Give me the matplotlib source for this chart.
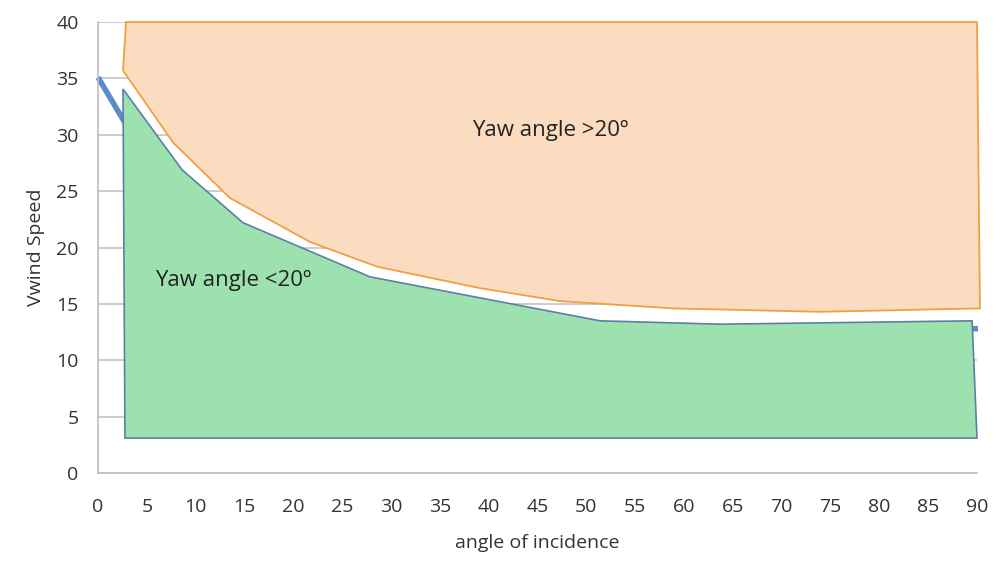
import matplotlib.pyplot as plt
from matplotlib.patches import Polygon

plt.rcParams['font.family'] = ['Open Sans', 'DejaVu Sans']

# region above the limit (orange)
upper_x = [2.87, 90.0, 90.3, 73.9, 58.9, 47.3, 39.1, 28.6, 21.7, 13.5, 7.7, 2.56]
upper_y = [40.0, 40.0, 14.6, 14.3, 14.6, 15.25, 16.4, 18.3, 20.5, 24.4, 29.3, 35.7]

# region below the limit (green)
lower_x = [2.56, 8.6, 14.85, 27.85, 51.4, 63.7, 89.5, 90.0, 2.76]
lower_y = [34.06, 26.9, 22.2, 17.4, 13.5, 13.2, 13.5, 3.1, 3.1]

# limit curve (mostly hidden under the green area)
limit_x = [0, 2.6, 8.6, 15, 28, 51, 64, 90.1]
limit_y = [35.1, 31.3, 25.5, 21.0, 16.5, 12.8, 12.5, 12.8]

x_ticks = list(range(0, 91, 5))
y_ticks = list(range(0, 41, 5))

fig = plt.figure(figsize=(10, 5.66), dpi=100)
ax = fig.add_axes([0.098, 0.1643, 0.879, 0.7967])

ax.plot(limit_x, limit_y, color='#5b8cc8', linewidth=4, zorder=2,
        solid_capstyle='butt', clip_on=False)

ax.add_patch(Polygon(list(zip(upper_x, upper_y)), closed=True,
                     facecolor='#fcdcc0', edgecolor='#f0a040', linewidth=1.3,
                     zorder=3, clip_on=False))
ax.add_patch(Polygon(list(zip(lower_x, lower_y)), closed=True,
                     facecolor='#9de2ae', edgecolor='#5a80a8', linewidth=1.2,
                     zorder=3, clip_on=False))

ax.text(38.3, 30.4, 'Yaw angle >20º', fontsize=16, color='#222222',
        va='center', ha='left', zorder=5)
ax.text(5.8, 17.1, 'Yaw angle <20º', fontsize=16, color='#222222',
        va='center', ha='left', zorder=5)

ax.set_xlim(0, 90)
ax.set_ylim(0, 40)
ax.set_xticks(x_ticks)
ax.set_yticks(y_ticks)
ax.tick_params(length=0, labelsize=14, colors='#333333')
ax.tick_params(axis='x', pad=18)
ax.tick_params(axis='y', pad=14)
ax.yaxis.grid(True, color='#c4c4c4', linewidth=1.2, zorder=0)
ax.set_axisbelow(True)
for side in ['top', 'right']:
    ax.spines[side].set_visible(False)
for side in ['left', 'bottom']:
    ax.spines[side].set_color('#bdbdbd')
    ax.spines[side].set_linewidth(1.2)

ax.set_xlabel('angle of incidence', fontsize=14, color='#333333', labelpad=13)
ax.set_ylabel('Vwind Speed', fontsize=14, color='#333333', labelpad=8)

fig.savefig('out.png', dpi=100)
